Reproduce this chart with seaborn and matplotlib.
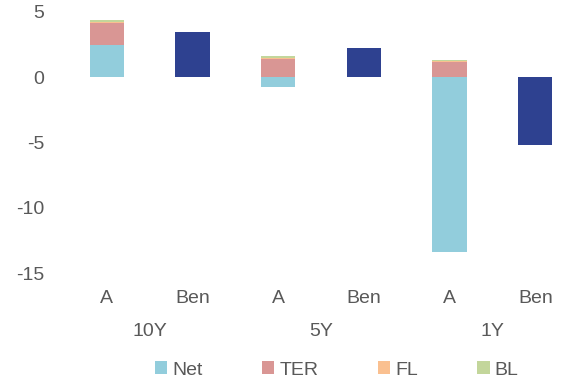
import matplotlib
matplotlib.use("Agg")
import matplotlib.pyplot as plt
import matplotlib.transforms as mtransforms
from matplotlib.patches import Patch
import numpy as np
import seaborn as sns

# ---- data ----
bar_keys = ["10Y A", "10Y Ben", "5Y A", "5Y Ben", "1Y A", "1Y Ben"]
bar_labels = ["A", "Ben", "A", "Ben", "A", "Ben"]
groups = ["10Y", "5Y", "1Y"]
net = [2.5, 0.0, -0.75, 0.0, -13.4, 0.0]
ter = [1.65, 0.0, 1.4, 0.0, 1.2, 0.0]
fl = [0.1, 0.0, 0.1, 0.0, 0.07, 0.0]
bl = [0.1, 0.0, 0.1, 0.0, 0.08, 0.0]
ben = [0.0, 3.5, 0.0, 2.25, 0.0, -5.2]

series = [("Net", net, "#92CDDC"), ("TER", ter, "#D99694"),
          ("FL", fl, "#FAC090"), ("BL", bl, "#C3D69B")]
ben_color = "#2E4190"
text_color = "#595959"

sns.set_theme(style="white")
plt.rcParams["font.family"] = ["Liberation Sans", "DejaVu Sans"]

fig = plt.figure(figsize=(5.61, 3.83), dpi=100)
ax = fig.add_axes([64 / 561, 1 - 273 / 383, 1 - 64 / 561, (273 - 12) / 383])

pos_base = np.zeros(len(bar_keys))
neg_base = np.zeros(len(bar_keys))
for name, vals, col in series:
    v = np.array(vals, dtype=float)
    bottoms = np.where(v >= 0, pos_base, neg_base)
    sns.barplot(x=bar_keys, y=v, bottom=bottoms, color=col, width=0.4,
                saturation=1, ax=ax, order=bar_keys, errorbar=None,
                linewidth=0)
    pos_base = pos_base + np.where(v >= 0, v, 0)
    neg_base = neg_base + np.where(v < 0, v, 0)

sns.barplot(x=bar_keys, y=ben, color=ben_color, width=0.4, saturation=1,
            ax=ax, order=bar_keys, errorbar=None, linewidth=0)

ax.set_ylim(-15, 5)
ax.set_xlim(-0.5, 5.3)
ax.set_yticks([5, 0, -5, -10, -15])
ax.set_yticklabels(["5", "0", "-5", "-10", "-15"])
ax.set_xticks(range(len(bar_keys)))
ax.set_xticklabels(bar_labels)
ax.tick_params(axis="both", length=0, labelsize=14, colors=text_color)
ax.tick_params(axis="y", pad=14)
ax.tick_params(axis="x", pad=12)
for s in ax.spines.values():
    s.set_visible(False)
ax.set_xlabel("")
ax.set_ylabel("")

trans = mtransforms.blended_transform_factory(ax.transData, fig.transFigure)
for i, g in enumerate(groups):
    ax.text(2 * i + 0.5, 1 - 331 / 383, g, transform=trans, ha="center",
            va="center", fontsize=14, color=text_color)

handles = [Patch(facecolor=c, edgecolor="none", label=n) for n, _, c in series]
fig.legend(handles=handles, loc="center", bbox_to_anchor=(0.6, 1 - 370 / 383),
           ncol=4, frameon=False, fontsize=14, handlelength=0.65,
           handleheight=0.65, handletextpad=0.25, columnspacing=3.05,
           labelcolor=text_color)

fig.savefig("out.png", dpi=100)
